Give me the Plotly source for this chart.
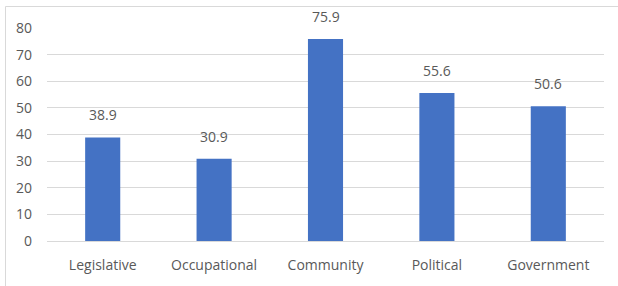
import plotly.graph_objects as go

categories = ["Legislative", "Occupational", "Community", "Political", "Government"]
values = [38.9, 30.9, 75.9, 55.6, 50.6]
y_ticks = [0, 10, 20, 30, 40, 50, 60, 70, 80]

FONT = "Open Sans"
GRAY = "#595959"

fig = go.Figure(go.Bar(
    x=categories, y=values,
    marker=dict(color="#4472C4", line=dict(width=0)),
    width=0.315,
    hoverinfo="skip",
))

for c, v in zip(categories, values):
    fig.add_annotation(x=c, y=v, text=f"{v:.1f}", showarrow=False,
                       yanchor="bottom", yshift=11,
                       font=dict(family=FONT, size=14, color=GRAY))

fig.add_shape(type="rect", xref="paper", yref="paper",
              x0=(5.5 - 47) / 557, x1=1.2, y0=-0.5, y1=(241 - 6.5) / 213,
              line=dict(color="#D9D9D9", width=1), layer="below")

fig.update_layout(
    width=618, height=286,
    margin=dict(l=47, r=14, t=28, b=45, autoexpand=False),
    paper_bgcolor="white", plot_bgcolor="white",
    showlegend=False,
    font=dict(family=FONT, size=14, color=GRAY),
    xaxis=dict(showgrid=False, showline=False, ticks="", ticklabelstandoff=14,
               automargin=False,
               tickfont=dict(family=FONT, size=14, color=GRAY)),
    yaxis=dict(range=[0, 80], tickvals=y_ticks, showgrid=True, gridcolor="#D9D9D9",
               gridwidth=1, zeroline=True, zerolinecolor="#D9D9D9", zerolinewidth=1,
               showline=False, ticks="", ticklabelstandoff=14, automargin=False,
               tickfont=dict(family=FONT, size=14, color=GRAY)),
)

fig.write_html("out.html", config={"displayModeBar": False},
               post_script="document.body.style.margin='0';")
